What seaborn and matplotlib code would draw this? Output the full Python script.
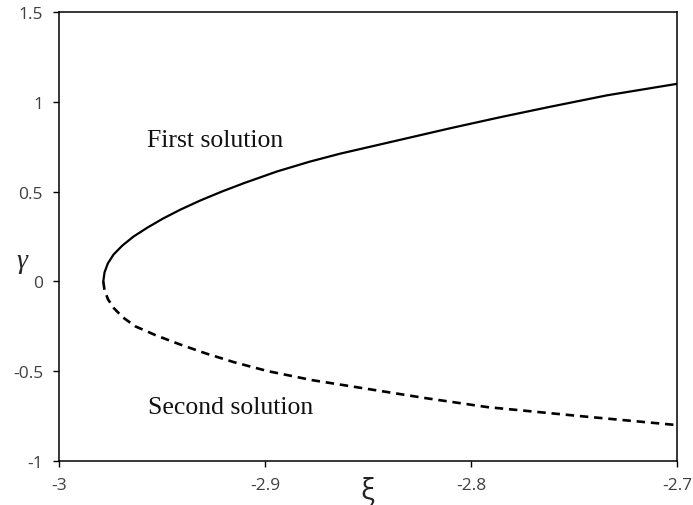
import matplotlib
matplotlib.use("Agg")
import matplotlib.pyplot as plt
import seaborn as sns

xi_first = [-2.9785, -2.9779, -2.9763, -2.9735, -2.9692, -2.9638, -2.9570, -2.9495,
            -2.9410, -2.9315, -2.9210, -2.9100, -2.8942, -2.8782, -2.8636, -2.8345,
            -2.8100, -2.7859, -2.7617, -2.7340, -2.7000]
gamma_first = [0.0, 0.05, 0.10, 0.15, 0.20, 0.25, 0.30, 0.35,
               0.40, 0.45, 0.50, 0.548, 0.612, 0.667, 0.711, 0.788,
               0.853, 0.914, 0.972, 1.036, 1.100]

xi_second = [-2.9785, -2.9779, -2.9762, -2.9733, -2.9690, -2.9630, -2.9530, -2.9415,
             -2.9290, -2.9150, -2.8985, -2.8770, -2.8495, -2.8220, -2.7920, -2.7470,
             -2.7000]
gamma_second = [0.0, -0.05, -0.10, -0.15, -0.20, -0.25, -0.30, -0.35,
                -0.40, -0.45, -0.50, -0.55, -0.60, -0.65, -0.70, -0.75,
                -0.80]

x_ticks = [-3, -2.9, -2.8, -2.7]
x_ticklabels = ["-3", "-2.9", "-2.8", "-2.7"]
y_ticks = [-1, -0.5, 0, 0.5, 1, 1.5]
y_ticklabels = ["-1", "-0.5", "0", "0.5", "1", "1.5"]

sns.set_style("white")
plt.rcParams['font.family'] = ['Open Sans', 'DejaVu Sans']

fig = plt.figure(figsize=(6.93, 5.06), dpi=100)
ax = fig.add_axes([59/693, 44/506, (677-59)/693, (462-13)/506])

sns.lineplot(x=xi_first, y=gamma_first, ax=ax, color="black", linewidth=1.6,
             sort=False, estimator=None)
sns.lineplot(x=xi_second, y=gamma_second, ax=ax, color="black", linewidth=1.9,
             sort=False, estimator=None, linestyle=(0, (3.2, 2.2)))

ax.set_xlim(-3, -2.7)
ax.set_ylim(-1, 1.5)
ax.set_xticks(x_ticks)
ax.set_xticklabels(x_ticklabels)
ax.set_yticks(y_ticks)
ax.set_yticklabels(y_ticklabels)
ax.tick_params(direction="out", length=4.5, width=1.0, colors="black",
               labelcolor="#404040", labelsize=12.5, pad=7, left=True, bottom=True)
for s in ax.spines.values():
    s.set_color("black")
    s.set_linewidth(1.1)
    s.set_visible(True)

ax.set_xlabel("")
ax.set_ylabel("")
fig.text(367/693, 1 - 492/506, "ξ", ha="center", va="center", fontsize=21,
         family=["Open Sans", "DejaVu Sans"], color="#222222")
fig.text(22/693, 1 - 262/506, "γ", ha="center", va="center", fontsize=20,
         style="italic", family=["Liberation Serif", "DejaVu Serif"])

ax.text(-2.9573, 0.785, "First solution", fontsize=18.5, ha="left", va="center",
        family=["Liberation Serif", "DejaVu Serif"], color="#111111")
ax.text(-2.9568, -0.70, "Second solution", fontsize=18.5, ha="left", va="center",
        family=["Liberation Serif", "DejaVu Serif"], color="#111111")

fig.savefig("out.png", dpi=100, facecolor="white")
